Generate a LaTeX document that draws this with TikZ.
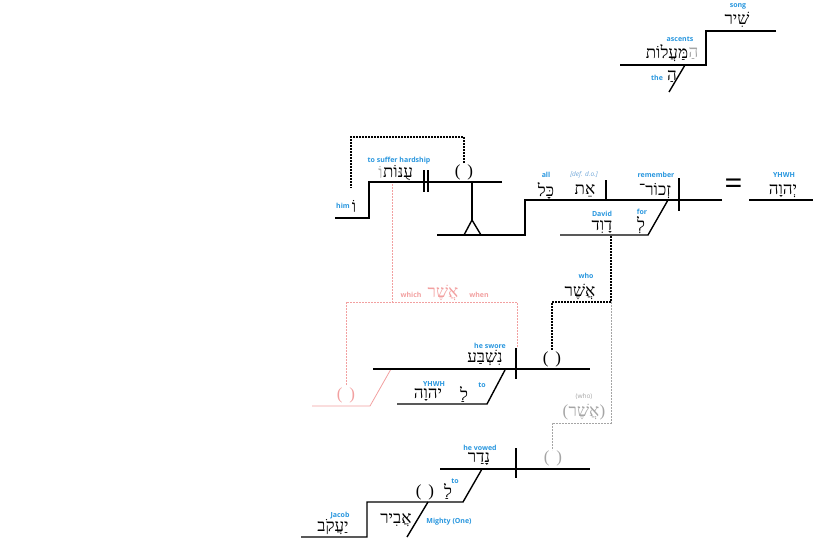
\documentclass[tikz,border=0pt]{standalone}
\usepackage{fontspec}
\TeXXeTstate=1
\setmainfont{Open Sans}
\newfontfamily\heb[Script=Hebrew]{Liberation Serif}
\newfontfamily\parf{Liberation Serif}
\newfontfamily\lab{Open Sans}
\definecolor{lblue}{RGB}{40,150,222}
\definecolor{dblue}{RGB}{110,165,215}
\definecolor{pinkc}{RGB}{242,160,160}
\definecolor{grayc}{RGB}{165,165,165}
\newcommand{\emptyslot}{(\hspace{7pt})}
\tikzset{
  lbl/.style={font=\lab\bfseries\fontsize{7}{8}\selectfont, text=lblue, inner sep=0pt},
  hw/.style={font=\heb\fontsize{17}{18}\selectfont, inner sep=0pt},
  pw/.style={font=\parf\fontsize{17}{18}\selectfont, inner sep=0pt},
  ln/.style={line width=1.4pt, line cap=butt},
  dotl/.style={line width=1.3pt, dash pattern=on 1.6pt off 1.4pt},
  pinkl/.style={pinkc, line width=0.8pt, dash pattern=on 1.6pt off 1.4pt},
  grayl/.style={grayc, line width=0.8pt, dash pattern=on 1.6pt off 1.4pt},
}
\begin{document}
\begin{tikzpicture}[x=1pt,y=-1pt]
\useasboundingbox (0,0) rectangle (825,544);
% ---- title: song of the ascents
\draw[ln] (776,31) -- (706,31) -- (706,65) -- (620,65);
\draw[ln] (685,65) -- (669,92);
\node[lbl] (l-song) at (738,6) {song};
\node[hw] (w-shir) at (737,20) {\beginR שִׁיר\endR};
\node[lbl] (l-asc) at (680,39) {ascents};
\node[hw] (w-maalot) at (667,53) {\beginR מַּעֲלוֹת\endR};
\node[hw, text=grayc, anchor=west] (w-maalot-h) at (w-maalot.east) {\beginR הַ\endR};
\node[lbl] (l-the) at (657,78) {the};
\node[hw] (w-ha) at (672,76) {\beginR הַ\endR};
% ---- main clause
\draw[ln] (749,200) -- (813,200);
\node[lbl] (l-yhwh) at (784,175) {YHWH};
\node[hw] (w-yhwh) at (783,191) {\beginR יְהוָה\endR};
\node[font=\lab\fontsize{32}{32}\selectfont, inner sep=0pt] (eq) at (733.5,187) {=};
\draw[ln] (722,200) -- (525,200) -- (525,235) -- (437,235);
\draw[ln] (679,178) -- (679,211);
\draw[ln] (606,180) -- (606,200);
\node[lbl] (l-rem) at (656,175) {remember};
\node[hw] (w-zkor) at (655,191) {\beginR זְכוֹר־\endR};
\node[font=\lab\itshape\fontsize{6.5}{8}\selectfont, text=dblue, inner sep=0pt] (l-do) at (584,175) {[def. d.o.]};
\node[hw] (w-et) at (585,191) {\beginR אֵת\endR};
\node[lbl] (l-all) at (546,175) {all};
\node[hw] (w-kol) at (546,191) {\beginR כָּל\endR};
\draw[ln] (668,200) -- (648,235) -- (560,235);
\node[lbl] (l-for) at (642,212) {for};
\node[hw] (w-le) at (641,225) {\beginR לְ\endR};
\node[lbl] (l-david) at (602,214) {David};
\node[hw] (w-david) at (602,227) {\beginR דָוִד\endR};
% ---- infinitive clause on stand
\draw[ln] (502,182) -- (369,182) -- (369,218) -- (335,218);
\draw[ln] (424,170) -- (424,192);
\draw[ln] (428,170) -- (428,192);
\draw[ln] (472,182) -- (472,220);
\draw[ln] (464,235) -- (472,220) -- (481,235);
\node[lbl] (l-suffer) at (399,161) {to suffer hardship};
\node[hw] (w-inot) at (398,173) {\beginR עֻנּוֹת\endR};
\node[hw, text=grayc, anchor=east] (w-inot-o) at (w-inot.west) {\beginR וֹ\endR};
\node[pw] (w-par1) at (464,172) {\emptyslot};
\node[lbl] (l-him) at (343,206) {him};
\node[hw] (w-o) at (354,207) {\beginR וֹ\endR};
\draw[dotl] (464,163) -- (464,137) -- (351,137) -- (351,188);
% ---- pink relative clause
\draw[pinkl] (392,184) -- (392,302);
\draw[pinkl] (346,385) -- (346,302) -- (517,302) -- (517,348);
\draw[pinkc, line width=0.8pt] (312,406) -- (370,406) -- (391,369);
\node[lbl, text=pinkc] (l-which) at (411,295) {which};
\node[hw, text=pinkc] (w-asher-p) at (443,293) {\beginR אֲשֶׁר\endR};
\node[lbl, text=pinkc] (l-when) at (479,295) {when};
\node[pw, text=pinkc] (w-par-p) at (346,395) {\emptyslot};
% ---- he swore
\draw[ln] (373,369) -- (590,369);
\draw[ln] (516,348) -- (516,379);
\node[lbl] (l-swore) at (490,346) {he swore};
\node[hw] (w-nishba) at (485,358) {\beginR נִשְׁבַּע\endR};
\node[pw] (w-par2) at (552,359) {\emptyslot};
\draw[ln] (505,370) -- (487,404) -- (397,404);
\node[lbl] (l-to1) at (482,385) {to};
\node[hw] (w-la1) at (464,394) {\beginR לַ\endR};
\node[lbl] (l-yhwh2) at (434,384) {YHWH};
\node[hw] (w-yhwh2) at (428,395) {\beginR יהוָה\endR};
% ---- who
\node[lbl] (l-who) at (586,276) {who};
\node[hw] (w-asher) at (580,292) {\beginR אֲשֶׁר\endR};
\draw[dotl] (611,236) -- (611,302) -- (552,302) -- (552,350);
\draw[grayl] (611,302) -- (611,423) -- (552,423) -- (552,450);
\node[lbl, text=grayc, font=\lab\fontsize{6.5}{8}\selectfont] (l-who2) at (584,397) {(who)};
\node[hw, text=grayc] (w-asher2) at (584,412) {\beginR אֲשֶׁר\endR};
\node[pw, text=grayc, anchor=east] (w-asher2-l) at (w-asher2.west) {(};
\node[pw, text=grayc, anchor=west] (w-asher2-r) at (w-asher2.east) {)};
% ---- he vowed
\draw[ln] (440,469) -- (590,469);
\draw[ln] (516,448) -- (516,478);
\node[lbl] (l-vowed) at (480,448) {he vowed};
\node[hw] (w-nadar) at (479,459) {\beginR נָדַר\endR};
\node[pw, text=grayc] (w-par3) at (553,458) {\emptyslot};
\draw[ln] (482,469) -- (463,502) -- (367,502) -- (367,537) -- (301,537);
\draw[ln] (428,502) -- (407,537);
\node[lbl] (l-to2) at (455,481) {to};
\node[hw] (w-la2) at (448,491) {\beginR לַ\endR};
\node[pw] (w-par4) at (425,492) {\emptyslot};
\node[lbl] (l-jacob) at (340,516) {Jacob};
\node[hw] (w-yaakov) at (333,527) {\beginR יַעֲקֹב\endR};
\node[hw] (w-abir) at (396,520) {\beginR אֲבִיר\endR};
\node[lbl] (l-mighty) at (449,522) {Mighty (One)};
\end{tikzpicture}
\end{document}
